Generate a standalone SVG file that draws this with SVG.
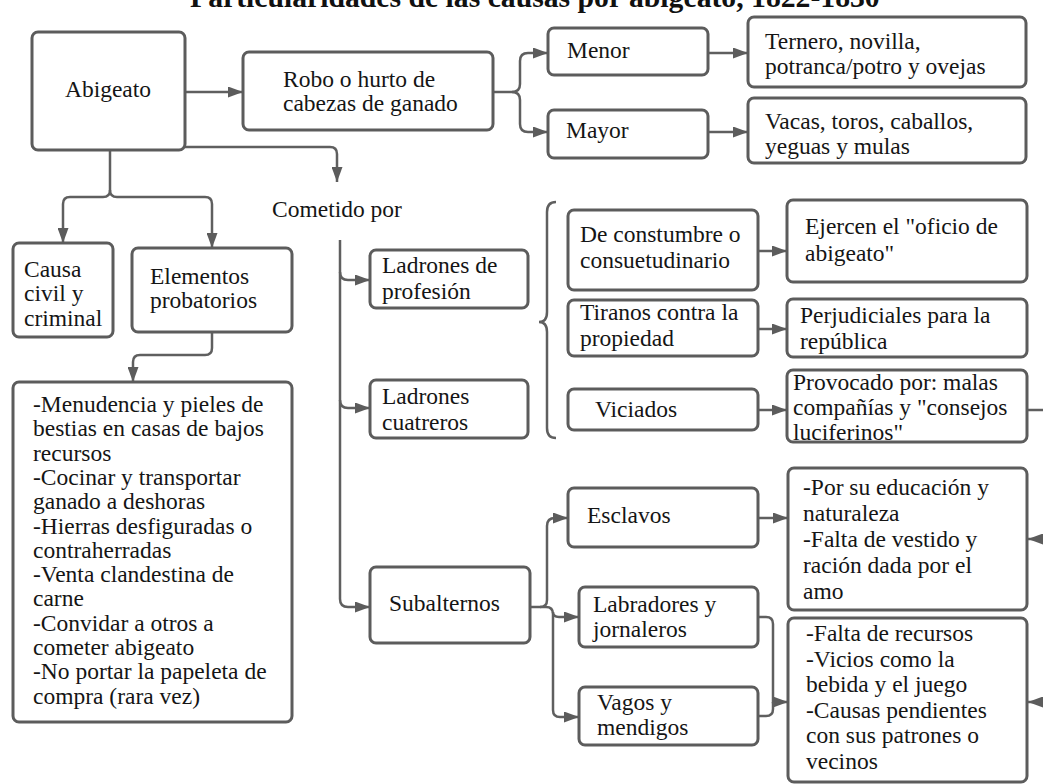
<svg xmlns="http://www.w3.org/2000/svg" width="1043" height="784" viewBox="0 0 1043 784">
<defs>
<marker id="ah" markerUnits="userSpaceOnUse" markerWidth="15" markerHeight="11" refX="15" refY="5.5" orient="auto">
<path d="M0,0 L15,5.5 L0,11 z" fill="#5c5c5c"/>
</marker>
<style>
.b{fill:#fff;stroke:#5c5c5c;stroke-width:3}
.t{font-family:"Liberation Serif","Times New Roman",serif;font-size:23.5px;fill:#151515}
.c{fill:none;stroke:#5f5f5f;stroke-width:2.5}
.a{marker-end:url(#ah)}
.title{font-family:"Liberation Serif","Times New Roman",serif;font-size:29.7px;font-weight:bold;fill:#111}
</style>
</defs>
<rect width="1043" height="784" fill="#fff"/>
<text class="title" x="190" y="7">Particularidades de las causas por abigeato, 1822-1830</text>

<g id="connectors">
<path class="c a" d="M185,92 H243"/>
<path class="c a" d="M493,92 H512 Q520,92 520,84 V61 Q520,53 528,53 H548"/>
<path class="c a" d="M512,92 Q520,92 520,100 V124 Q520,132 528,132 H548"/>
<path class="c a" d="M708,53 H748"/>
<path class="c a" d="M708,132 H748"/>
<path class="c a" d="M185,147 H330 Q337,147 337,154 V182"/>
<path class="c a" d="M110,150 V190 Q110,197 103,197 H70 Q63,197 63,204 V243"/>
<path class="c a" d="M110,190 Q110,197 117,197 H205 Q212,197 212,204 V248"/>
<path class="c a" d="M212,332 V348 Q212,355 205,355 H140 Q133,355 133,362 V382"/>
<path class="c a" d="M340,240 V599 Q340,607 348,607 H370"/>
<path class="c a" d="M340,272 Q340,280 348,280 H370"/>
<path class="c a" d="M340,400 Q340,408 348,408 H370"/>
<path class="c" stroke-width="2" d="M556,202 Q547,202 547,212 V312 Q547,322 539,322 Q547,322 547,332 V428 Q547,438 556,438"/>
<path class="c a" d="M758,251 H787"/>
<path class="c a" d="M758,329 H787"/>
<path class="c a" d="M758,410 H787"/>
<path class="c a" d="M1027,410 H1060 V539 H1028"/>
<path class="c a" d="M1060,539 V702 H1028"/>
<path class="c a" d="M530,607 H540 Q547,607 547,600 V526 Q547,518 555,518 H568"/>
<path class="c a" d="M540,607 H546 Q553,607 553,614 V710 Q553,717 560,717 H579"/>
<path class="c a" d="M553,612 Q553,617 559,617 H579"/>
<path class="c a" d="M758,518 H788"/>
<path class="c a" d="M758,617 H766 Q773,617 773,624 V702 H788"/>
<path class="c" d="M758,716 H766 Q773,716 773,709 V702"/>
</g>

<g id="abigeato"><rect class="b" x="32" y="32" width="153" height="118" rx="6"/><text class="t" x="108" y="97" text-anchor="middle">Abigeato</text></g>
<g id="robo"><rect class="b" x="243" y="52" width="250" height="78" rx="6"/><text class="t" x="283" y="87">Robo o hurto de</text><text class="t" x="283" y="111">cabezas de ganado</text></g>
<g id="menor"><rect class="b" x="548" y="28" width="160" height="47" rx="6"/><text class="t" x="567" y="58">Menor</text></g>
<g id="mayor"><rect class="b" x="548" y="110" width="160" height="48" rx="6"/><text class="t" x="566" y="138">Mayor</text></g>
<g id="ternero"><rect class="b" x="748" y="17" width="278" height="70" rx="6"/><text class="t" x="765" y="49">Ternero, novilla,</text><text class="t" x="765" y="74">potranca/potro y ovejas</text></g>
<g id="vacas"><rect class="b" x="748" y="98" width="278" height="65" rx="6"/><text class="t" x="765" y="129">Vacas, toros, caballos,</text><text class="t" x="765" y="154">yeguas y mulas</text></g>
<g id="cometido"><text class="t" x="272" y="217">Cometido por</text></g>
<g id="causa"><rect class="b" x="13" y="243" width="100" height="94" rx="6"/><text class="t" x="24" y="277">Causa</text><text class="t" x="24" y="301">civil y</text><text class="t" x="24" y="326">criminal</text></g>
<g id="elementos"><rect class="b" x="132" y="248" width="160" height="84" rx="6"/><text class="t" x="150" y="284">Elementos</text><text class="t" x="150" y="308">probatorios</text></g>
<g id="lista"><rect class="b" x="13" y="382" width="279" height="340" rx="6"/>
<text class="t" x="33" y="412">-Menudencia y pieles de</text>
<text class="t" x="33" y="436.3">bestias en casas de bajos</text>
<text class="t" x="33" y="460.6">recursos</text>
<text class="t" x="33" y="484.9">-Cocinar y transportar</text>
<text class="t" x="33" y="509.2">ganado a deshoras</text>
<text class="t" x="33" y="533.5">-Hierras desfiguradas o</text>
<text class="t" x="33" y="557.8">contraherradas</text>
<text class="t" x="33" y="582.1">-Venta clandestina de</text>
<text class="t" x="33" y="606.4">carne</text>
<text class="t" x="33" y="630.7">-Convidar a otros a</text>
<text class="t" x="33" y="655">cometer abigeato</text>
<text class="t" x="33" y="679.3">-No portar la papeleta de</text>
<text class="t" x="33" y="703.6">compra (rara vez)</text>
</g>
<g id="ladrones-profesion"><rect class="b" x="370" y="250" width="158" height="58" rx="6"/><text class="t" x="382" y="273">Ladrones de</text><text class="t" x="382" y="299">profesión</text></g>
<g id="ladrones-cuatreros"><rect class="b" x="370" y="380" width="158" height="58" rx="6"/><text class="t" x="382" y="404">Ladrones</text><text class="t" x="382" y="430">cuatreros</text></g>
<g id="subalternos"><rect class="b" x="370" y="567" width="160" height="76" rx="6"/><text class="t" x="389" y="611">Subalternos</text></g>
<g id="constumbre"><rect class="b" x="568" y="210" width="190" height="80" rx="6"/><text class="t" x="580" y="242">De constumbre o</text><text class="t" x="580" y="268">consuetudinario</text></g>
<g id="ejercen"><rect class="b" x="787" y="200" width="240" height="82" rx="6"/><text class="t" x="805" y="234">Ejercen el "oficio de</text><text class="t" x="805" y="261">abigeato"</text></g>
<g id="tiranos"><rect class="b" x="568" y="300" width="190" height="56" rx="6"/><text class="t" x="580" y="320">Tiranos contra la</text><text class="t" x="580" y="346">propiedad</text></g>
<g id="perjudiciales"><rect class="b" x="787" y="299" width="240" height="58" rx="6"/><text class="t" x="800" y="323">Perjudiciales para la</text><text class="t" x="800" y="349">república</text></g>
<g id="viciados"><rect class="b" x="568" y="389" width="190" height="41" rx="6"/><text class="t" x="595" y="417">Viciados</text></g>
<g id="provocado"><rect class="b" x="787" y="370" width="240" height="72" rx="6"/><text class="t" x="793" y="390">Provocado por: malas</text><text class="t" x="793" y="415">compañías y "consejos</text><text class="t" x="793" y="440">luciferinos"</text></g>
<g id="esclavos"><rect class="b" x="568" y="488" width="190" height="59" rx="6"/><text class="t" x="587" y="523">Esclavos</text></g>
<g id="labradores"><rect class="b" x="579" y="587" width="179" height="60" rx="6"/><text class="t" x="593" y="612">Labradores y</text><text class="t" x="593" y="637">jornaleros</text></g>
<g id="vagos"><rect class="b" x="579" y="687" width="179" height="58" rx="6"/><text class="t" x="597" y="710">Vagos y</text><text class="t" x="597" y="735">mendigos</text></g>
<g id="causas-esclavos"><rect class="b" x="788" y="468" width="239" height="142" rx="6"/>
<text class="t" x="803" y="495">-Por su educación y</text>
<text class="t" x="803" y="521">naturaleza</text>
<text class="t" x="803" y="547">-Falta de vestido y</text>
<text class="t" x="803" y="573">ración dada por el</text>
<text class="t" x="803" y="599">amo</text>
</g>
<g id="causas-labradores"><rect class="b" x="788" y="618" width="239" height="164" rx="6"/>
<text class="t" x="806" y="641">-Falta de recursos</text>
<text class="t" x="806" y="666.6">-Vicios como la</text>
<text class="t" x="806" y="692.2">bebida y el juego</text>
<text class="t" x="806" y="717.8">-Causas pendientes</text>
<text class="t" x="806" y="743.4">con sus patrones o</text>
<text class="t" x="806" y="769">vecinos</text>
</g>
</svg>
